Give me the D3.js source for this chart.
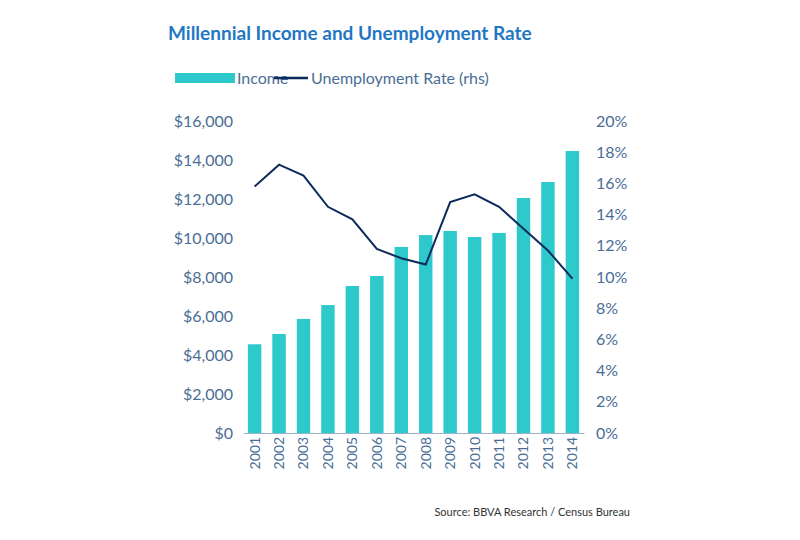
<!DOCTYPE html>
<html><head><meta charset="utf-8">
<script src="https://cdn.jsdelivr.net/npm/d3@7"></script>
<style>body{margin:0;background:#fff}</style></head>
<body><svg id="c" width="800" height="540"></svg>
<script>
const years = ["2001","2002","2003","2004","2005","2006","2007","2008","2009","2010","2011","2012","2013","2014"];
const income = [4550,5080,5850,6560,7540,8050,9540,10150,10360,10050,10260,12050,12870,14460];
const unemployment = [15.8,17.2,16.5,14.5,13.7,11.8,11.2,10.8,14.8,15.3,14.5,13.1,11.7,9.9];
const leftTicks = [0,2000,4000,6000,8000,10000,12000,14000,16000];
const rightTicks = [0,2,4,6,8,10,12,14,16,18,20];

const svg = d3.select("#c");
const font = "Lato, 'Open Sans', sans-serif";
const txt = "#4a6e95";
const pTop = 121, pBottom = 433, pLeft = 243, pRight = 584;
const x = d3.scaleBand().domain(years).range([pLeft, pRight]).paddingInner(0.45).paddingOuter(0.2);
const yL = d3.scaleLinear().domain([0,16000]).range([pBottom, pTop]);
const yR = d3.scaleLinear().domain([0,20]).range([pBottom, pTop]);

svg.append("text").attr("x",168).attr("y",40).attr("font-family",font).attr("font-weight","bold")
  .attr("font-size",19).attr("fill","#1f77c4").text("Millennial Income and Unemployment Rate");

svg.append("rect").attr("x",175).attr("y",73).attr("width",60).attr("height",10).attr("fill","#2ec9cb");
svg.append("text").attr("x",237).attr("y",84).attr("font-family",font).attr("font-size",16).attr("fill",txt).text("Income");
svg.append("line").attr("x1",274).attr("x2",308).attr("y1",78).attr("y2",78).attr("stroke","#0b2b5c").attr("stroke-width",2.5);
svg.append("text").attr("x",311).attr("y",84).attr("font-family",font).attr("font-size",16).attr("fill",txt).text("Unemployment Rate (rhs)");

svg.selectAll("rect.bar").data(income).join("rect").attr("class","bar")
  .attr("x",(d,i)=>x(years[i])).attr("width",x.bandwidth())
  .attr("y",d=>yL(d)).attr("height",d=>pBottom-yL(d)).attr("fill","#2ec9cb");

svg.append("path").datum(unemployment)
  .attr("d", d3.line().x((d,i)=>x(years[i])+x.bandwidth()/2).y(d=>yR(d)))
  .attr("fill","none").attr("stroke","#0b2b5c").attr("stroke-width",2);

const aL = svg.append("g").attr("transform",`translate(${pLeft},0)`)
  .call(d3.axisLeft(yL).tickValues(leftTicks).tickSize(0).tickPadding(10).tickFormat(d=>"$"+d3.format(",")(d)));
const aR = svg.append("g").attr("transform",`translate(${pRight},0)`)
  .call(d3.axisRight(yR).tickValues(rightTicks).tickSize(0).tickPadding(12).tickFormat(d=>d+"%"));
[aL,aR].forEach(a=>{a.select(".domain").remove();a.selectAll("text").attr("font-family",font).attr("font-size",16).attr("fill",txt);});

const aX = svg.append("g").attr("transform",`translate(0,${pBottom})`).call(d3.axisBottom(x).tickSize(0));
aX.select(".domain").attr("stroke","#9fb3c8");
aX.selectAll(".tick text").attr("font-family",font).attr("font-size",14).attr("fill",txt)
  .attr("transform","rotate(-90)").attr("text-anchor","end").attr("x",-4).attr("y",0).attr("dy","0.35em");

svg.append("text").attr("x",630).attr("y",516).attr("text-anchor","end").attr("font-family",font)
  .attr("font-size",11).attr("fill","#333").text("Source: BBVA Research / Census Bureau");
</script></body></html>
